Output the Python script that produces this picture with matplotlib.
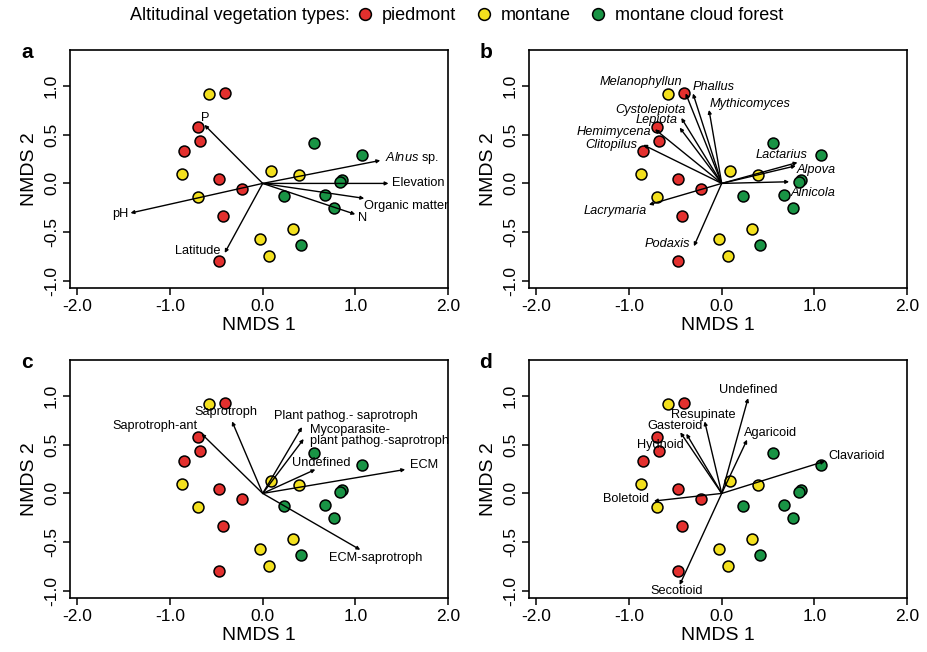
"""NMDS ordinations of fungal communities with fitted vectors (panels a-d)."""

import matplotlib.pyplot as plt
from matplotlib.lines import Line2D

plt.rcParams["font.family"] = ["Liberation Sans", "DejaVu Sans"]
plt.rcParams["mathtext.fontset"] = "custom"
plt.rcParams["mathtext.rm"] = "Liberation Sans"
plt.rcParams["mathtext.it"] = "Liberation Sans:italic"

# site scores, grouped by vegetation type
piedmont_x = [-0.41, -0.70, -0.675, -0.845, -0.467, -0.22, -0.43, -0.474]
piedmont_y = [0.92, 0.58, 0.43, 0.33, 0.048, -0.054, -0.337, -0.796]
montane_x = [-0.575, -0.866, -0.70, 0.093, 0.392, -0.032, 0.068, 0.323]
montane_y = [0.915, 0.10, -0.136, 0.129, 0.088, -0.565, -0.745, -0.466]
cloud_x = [0.557, 1.071, 0.859, 0.83, 0.226, 0.676, 0.773, 0.413]
cloud_y = [0.418, 0.286, 0.037, 0.014, -0.133, -0.122, -0.248, -0.629]

groups = ["piedmont", "montane", "montane cloud forest"]
group_colors = ["#E3302E", "#F3E01E", "#199445"]

# fitted vectors (arrow tips)
env_names = ["P", "$\\mathit{Alnus}$ sp.", "Elevation", "Organic matter", "N", "pH", "Latitude"]
env_x = [-0.629, 1.269, 1.358, 1.096, 0.999, -1.427, -0.41]
env_y = [0.599, 0.235, 0.0, -0.153, -0.316, -0.303, -0.711]

genus_names = ["Melanophyllun", "Phallus", "Mythicomyces", "Cystolepiota", "Lepiota",
               "Hemimycena", "Clitopilus", "Lacrymaria", "Podaxis", "Lactarius",
               "Alpova", "Alnicola"]
genus_x = [-0.389, -0.31, -0.137, -0.436, -0.454, -0.72, -0.847, -0.786, -0.30, 0.818, 0.80, 0.728]
genus_y = [0.922, 0.92, 0.752, 0.67, 0.571, 0.554, 0.395, -0.218, -0.643, 0.214, 0.18, 0.017]

guild_names = ["Saprotroph-ant", "Saprotroph", "Plant pathog.- saprotroph",
               "Mycoparasite-\nplant pathog.-saprotroph", "Undefined", "ECM", "ECM-saprotroph"]
guild_x = [-0.661, -0.331, 0.424, 0.442, 0.568, 1.538, 1.053]
guild_y = [0.611, 0.737, 0.679, 0.557, 0.245, 0.245, -0.577]

morph_names = ["Undefined", "Resupinate", "Gasteroid", "Hydnoid", "Agaricoid",
               "Clavarioid", "Boletoid", "Secotioid"]
morph_x = [0.285, -0.184, -0.382, -0.447, 0.274, 1.114, -0.732, -0.454]
morph_y = [0.975, 0.737, 0.611, 0.625, 0.55, 0.329, -0.078, -0.937]

# label anchors (x, y, ha) for each vector, layout only
env_labels = [(-0.618, 0.673, "center"), (1.32, 0.258, "left"), (1.394, 0.0, "left"),
              (1.089, -0.228, "left"), (1.082, -0.357, "center"), (-1.445, -0.31, "right"),
              (-0.456, -0.694, "right")]
genus_labels = [(-0.425, 1.034, "right"), (-0.31, 0.983, "left"), (-0.126, 0.813, "left"),
                (-0.389, 0.755, "right"), (-0.472, 0.646, "right"), (-0.76, 0.531, "right"),
                (-0.91, 0.395, "right"), (-0.81, -0.282, "right"), (-0.342, -0.622, "right"),
                (0.926, 0.286, "right"), (0.81, 0.139, "left"), (0.746, -0.099, "left")]
guild_labels = [(-0.708, 0.686, "right"), (-0.40, 0.828, "center"), (0.119, 0.788, "left"),
                (0.507, 0.591, "left"), (0.952, 0.312, "right"), (1.585, 0.289, "left"),
                (0.712, -0.662, "left")]
morph_labels = [(0.29, 1.06, "center"), (-0.198, 0.805, "center"), (-0.508, 0.686, "center"),
                (-0.667, 0.496, "center"), (0.241, 0.618, "left"), (1.15, 0.38, "left"),
                (-0.786, -0.061, "right"), (-0.486, -0.995, "center")]


def draw_panel(ax, names, vx, vy, labels, italic=False):
    for gx, gy, color in zip([piedmont_x, montane_x, cloud_x],
                             [piedmont_y, montane_y, cloud_y], group_colors):
        ax.scatter(gx, gy, s=62, c=color, edgecolors="black", linewidths=1.1, zorder=2)
    for name, x, y, (lx, ly, ha) in zip(names, vx, vy, labels):
        ax.annotate("", xy=(x, y), xytext=(0, 0),
                    arrowprops=dict(arrowstyle="-|>", lw=1.0, color="black",
                                    mutation_scale=5, shrinkA=0, shrinkB=0), zorder=3)
        ax.text(lx, ly, name, ha=ha, va="center", fontsize=9.2,
                style="italic" if italic else "normal", linespacing=0.85, zorder=4)
    ax.set_xlim(-2.08, 2.0)
    ax.set_ylim(-1.07, 1.365)
    ax.set_xticks([-2, -1, 0, 1, 2])
    ax.set_xticklabels(["-2.0", "-1.0", "0.0", "1.0", "2.0"])
    ax.set_yticks([-1, -0.5, 0, 0.5, 1])
    ax.set_yticklabels(["-1.0", "-0.5", "0.0", "0.5", "1.0"], rotation=90, va="center")
    ax.tick_params(direction="out", length=5, width=1.1, labelsize=12.5, pad=3)
    ax.set_xlabel("NMDS 1", fontsize=14, labelpad=2)
    ax.set_ylabel("NMDS 2", fontsize=14, labelpad=4)
    for spine in ax.spines.values():
        spine.set_linewidth(1.2)


fig = plt.figure(figsize=(9.27, 6.52), dpi=100)
W, H = 927, 652
boxes = [(70, 50), (529, 50), (70, 360), (529, 360)]
panels = [(env_names, env_x, env_y, env_labels, False),
          (genus_names, genus_x, genus_y, genus_labels, True),
          (guild_names, guild_x, guild_y, guild_labels, False),
          (morph_names, morph_x, morph_y, morph_labels, False)]
for (left, top), letter, (names, vx, vy, labels, italic) in zip(boxes, "abcd", panels):
    ax = fig.add_axes([left / W, 1 - (top + 238) / H, 378 / W, 238 / H])
    draw_panel(ax, names, vx, vy, labels, italic)
    fig.text((left - 43) / W, 1 - (top + 3) / H, letter, fontsize=15, fontweight="bold",
             ha="center", va="center")

fig.text(350 / W, 1 - 16 / H, "Altitudinal vegetation types:", fontsize=13,
         ha="right", va="center")
handles = [Line2D([], [], marker="o", linestyle="none", markersize=8.5,
                  markerfacecolor=c, markeredgecolor="black", markeredgewidth=1.1)
           for c in group_colors]
fig.legend(handles, groups, loc="center left", bbox_to_anchor=(356 / W, 1 - 16 / H),
           ncol=3, frameon=False, fontsize=13, handletextpad=0.42, columnspacing=1.05,
           handlelength=1.0, borderaxespad=0, borderpad=0)

fig.savefig("out.png", dpi=100)
